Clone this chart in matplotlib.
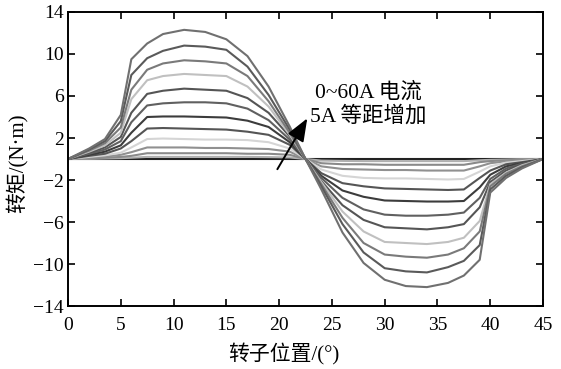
import matplotlib
matplotlib.use("Agg")
import matplotlib.pyplot as plt

plt.rcParams['font.family'] = ['Liberation Serif', 'Noto Sans CJK SC']
plt.rcParams['axes.unicode_minus'] = True

# Rotor position (deg)
position = [0, 2, 3.5, 5, 6, 7.5, 9, 11, 13, 15, 17, 19, 21, 22.5,
            24, 26, 28, 30, 32, 34, 36, 37.5, 39, 40, 41.5, 43, 45]

# Torque (N*m) for phase currents 0..60 A in 5 A steps
t0 = [0, 0, 0, 0, 0, 0, 0, 0, 0, 0, 0, 0, 0, 0,
      0, 0, 0, 0, 0, 0, 0, 0, 0, 0, 0, 0, 0]
t5 = [0, 0.02, 0.05, 0.08, 0.12, 0.2, 0.2, 0.2, 0.2, 0.2, 0.2, 0.18, 0.15, 0,
      -0.15, -0.18, -0.2, -0.2, -0.2, -0.2, -0.2, -0.2, -0.12, -0.08, -0.05, -0.02, 0]
t10 = [0, 0.06, 0.12, 0.2, 0.3, 0.55, 0.55, 0.55, 0.55, 0.55, 0.5, 0.5, 0.4, 0,
       -0.4, -0.5, -0.5, -0.55, -0.55, -0.55, -0.55, -0.55, -0.3, -0.2, -0.12, -0.06, 0]
t15 = [0, 0.12, 0.22, 0.4, 0.65, 1.1, 1.1, 1.1, 1.05, 1.05, 1.0, 0.95, 0.7, 0,
       -0.7, -0.95, -1.0, -1.05, -1.05, -1.1, -1.1, -1.1, -0.7, -0.4, -0.22, -0.12, 0]
t20 = [0, 0.2, 0.35, 0.6, 1.1, 1.9, 1.95, 1.9, 1.85, 1.85, 1.8, 1.6, 1.0, 0,
       -1.0, -1.6, -1.8, -1.85, -1.85, -1.9, -1.95, -1.9, -1.2, -0.7, -0.35, -0.2, 0]
t25 = [0, 0.3, 0.5, 1.0, 1.7, 2.9, 2.95, 2.9, 2.85, 2.8, 2.6, 2.3, 1.35, 0,
       -1.35, -2.3, -2.6, -2.8, -2.85, -2.9, -2.95, -2.9, -1.8, -1.1, -0.5, -0.3, 0]
t30 = [0, 0.4, 0.7, 1.3, 2.5, 4.0, 4.05, 4.05, 4.0, 3.95, 3.65, 3.05, 1.6, 0,
       -1.6, -3.0, -3.6, -3.95, -4.0, -4.05, -4.05, -4.0, -2.7, -1.5, -0.7, -0.4, 0]
t35 = [0, 0.5, 0.9, 1.7, 3.5, 5.1, 5.3, 5.4, 5.4, 5.3, 4.8, 3.7, 1.85, 0,
       -1.8, -3.7, -4.8, -5.3, -5.4, -5.4, -5.3, -5.1, -3.7, -1.9, -0.9, -0.45, 0]
t40 = [0, 0.6, 1.1, 2.1, 4.4, 6.2, 6.5, 6.7, 6.6, 6.5, 5.8, 4.4, 2.15, 0,
       -2.1, -4.4, -5.8, -6.5, -6.6, -6.7, -6.5, -6.2, -4.6, -2.2, -1.1, -0.5, 0]
t45 = [0, 0.7, 1.3, 2.5, 5.7, 7.5, 7.9, 8.1, 8.0, 7.9, 6.9, 5.0, 2.3, 0,
       -2.2, -5.0, -6.9, -7.9, -8.0, -8.1, -7.9, -7.5, -5.9, -2.4, -1.3, -0.6, 0]
t50 = [0, 0.8, 1.5, 3.0, 6.6, 8.5, 9.1, 9.4, 9.3, 9.1, 7.9, 5.5, 2.5, 0,
       -2.4, -5.6, -8.0, -9.1, -9.3, -9.4, -9.1, -8.5, -6.9, -2.6, -1.4, -0.7, 0]
t55 = [0, 0.9, 1.7, 3.6, 8.0, 9.6, 10.3, 10.8, 10.7, 10.4, 8.8, 6.1, 2.8, 0,
       -2.6, -6.2, -8.9, -10.4, -10.7, -10.8, -10.3, -9.7, -8.2, -2.9, -1.6, -0.8, 0]
t60 = [0, 1.0, 1.9, 4.2, 9.5, 11.0, 11.9, 12.3, 12.1, 11.4, 9.8, 6.9, 3.1, 0,
       -2.9, -7.0, -9.9, -11.5, -12.1, -12.2, -11.8, -11.1, -9.6, -3.2, -1.8, -0.9, 0]

curves = [t0, t5, t10, t15, t20, t25, t30, t35, t40, t45, t50, t55, t60]
colors = ["#222222", "#b0b0b0", "#8a8a8a", "#909090", "#d5d5d5", "#555555",
          "#3c3c3c", "#606060", "#555555", "#c0c0c0", "#7a7a7a", "#5a5a5a", "#707070"]

fig = plt.figure(figsize=(5.61, 3.69), dpi=100)
ax = fig.add_axes([0.1212, 0.1707, 0.8468, 0.7968])

for t, c in zip(curves, colors):
    ax.plot(position, t, color=c, lw=1.5)

ax.set_xlim(0, 45)
ax.set_ylim(-14, 14)
ax.set_xticks(range(0, 46, 5))
ax.set_yticks([14, 10, 6, 2, -2, -6, -10, -14])
ax.tick_params(direction="in", top=True, right=True, length=5, width=1.2,
               labelsize=14)
ax.tick_params(axis="x", pad=8)
ax.tick_params(axis="y", pad=3)
for s in ax.spines.values():
    s.set_linewidth(1.4)

ax.set_xlabel("转子位置/(°)", fontsize=15)
ax.xaxis.set_label_coords(0.454, -0.128)
ax.set_ylabel("转矩/(N·m)", fontsize=15)
ax.yaxis.set_label_coords(-0.082, 0.485)

ax.annotate("", xy=(22.8, 4.1), xytext=(19.7, -1.2),
            arrowprops=dict(arrowstyle="-|>,head_length=1.4,head_width=0.55",
                            color="black", lw=1.4))
ax.text(23.4, 6.3, "0~60A 电流", fontsize=15.5, va="center", ha="left")
ax.text(22.9, 4.1, "5A 等距增加", fontsize=15.5, va="center", ha="left")

fig.savefig("out.png", dpi=100)
